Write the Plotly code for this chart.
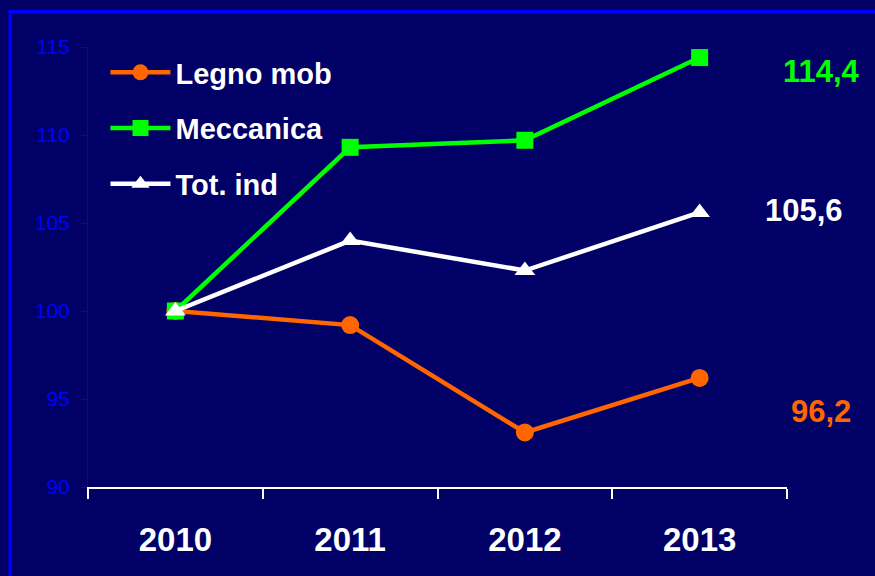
"""Indici di produzione 2010-2013 (2010 = 100)."""
import plotly.graph_objects as go

years = ["2010", "2011", "2012", "2013"]
legno_mob = [100, 99.2, 93.1, 96.2]
meccanica = [100, 109.3, 109.7, 114.4]
tot_ind = [100, 104.0, 102.3, 105.6]

BG = "#000066"
FONT = "Arial, Liberation Sans, sans-serif"

series = [
    ("Legno mob", legno_mob, "#ff6600", "circle", 18),
    ("Meccanica", meccanica, "#00ff00", "square", 17),
    ("Tot. ind", tot_ind, "#ffffff", "triangle-up", 18),
]
# end labels sit a bit off the last point
label_shift = {"Legno mob": -34, "Meccanica": -14, "Tot. ind": 2}
label_x = {"Legno mob": 1.049, "Meccanica": 1.050, "Tot. ind": 1.024}

fig = go.Figure()
for i, (name, vals, color, sym, size) in enumerate(series):
    fig.add_trace(go.Scatter(
        x=years, y=vals, name=name, legendgroup=f"g{i}",
        mode="lines+markers",
        line=dict(color=color, width=4.5),
        marker=dict(symbol=sym, size=size, color=color),
    ))
    fig.add_annotation(
        x=label_x[name], xref="paper", y=vals[-1], yref="y",
        yshift=label_shift[name],
        text=f"{vals[-1]:.1f}".replace(".", ","),
        showarrow=False, xanchor="center",
        font=dict(family=FONT, size=31, color=color, weight="bold"),
    )

# outer blue frame (runs off the right and bottom edges)
fig.add_shape(type="rect", xref="paper", yref="paper",
              x0=-0.1116, x1=1.2, y0=-0.3, y1=1.0805,
              line=dict(color="#0000ff", width=3), layer="below")

fig.update_layout(
    width=875, height=576,
    paper_bgcolor=BG, plot_bgcolor=BG,
    margin=dict(l=88, r=88, t=47, b=89),
    font=dict(family=FONT),
    showlegend=True,
    legend=dict(
        x=0.025, y=1.0, xanchor="left", yanchor="top",
        bgcolor="rgba(0,0,0,0)", traceorder="grouped", tracegroupgap=15,
        font=dict(size=29, color="white", family=FONT, weight="bold"),
        itemwidth=60,
    ),
    xaxis=dict(
        type="category", range=[-0.5, 3.5], tickson="boundaries",
        showline=True, linecolor="white", linewidth=2,
        ticks="outside", ticklen=10, tickwidth=2, tickcolor="white",
        showgrid=False, ticklabelstandoff=22,
        tickfont=dict(size=33, color="white", family=FONT, weight="bold"),
    ),
    yaxis=dict(
        range=[90, 115], dtick=5,
        showline=True, linecolor="#0000dd", linewidth=1,
        ticks="outside", ticklen=6, tickcolor="#0000dd",
        gridcolor="#00007a", gridwidth=1, zeroline=False,
        ticklabelstandoff=7,
        tickfont=dict(size=21, color="#0000ff", family=FONT),
    ),
)

fig.write_html(
    "out.html",
    config={"displayModeBar": False},
    post_script="document.body.style.margin='0';document.body.style.background='#000066';",
)
